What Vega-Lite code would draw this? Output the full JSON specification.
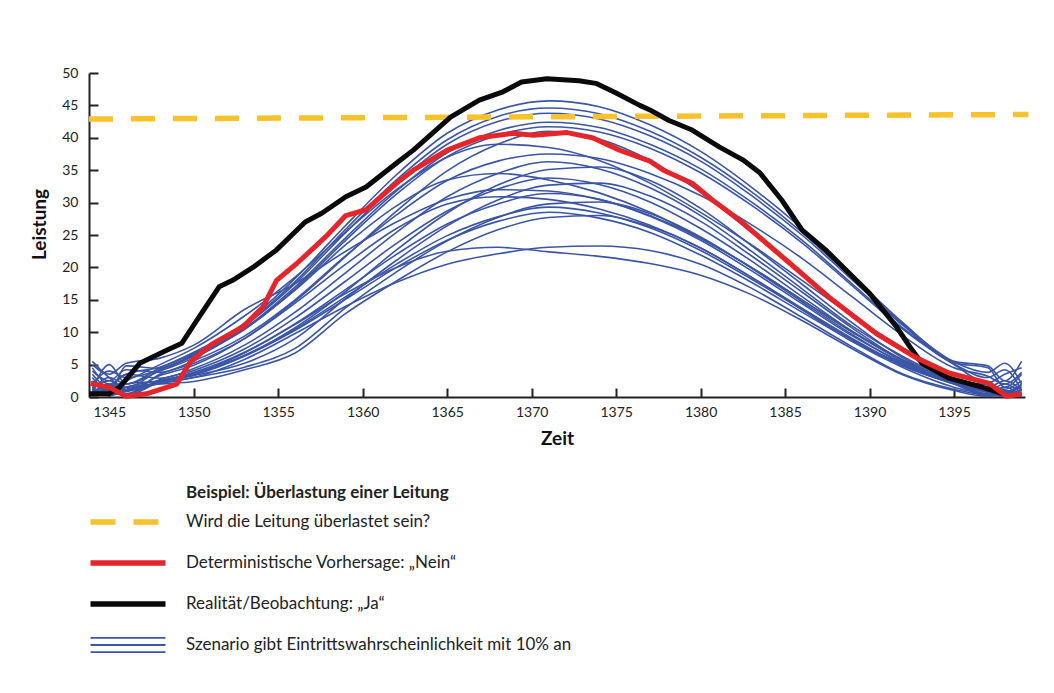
{
"$schema": "https://vega.github.io/schema/vega-lite/v6.json",
"width": 936, "height": 324,
"autosize": {"type": "none"},
"padding": {"left": 89, "top": 73, "right": 29, "bottom": 296},
"background": "white",
"config": {
 "view": {"stroke": null},
 "font": "Lato",
 "axis": {"grid": false, "domainColor": "#222", "domainWidth": 2, "tickColor": "#222", "tickWidth": 2, "tickSize": -9, "labelFont": "Lato", "labelFontSize": 14, "labelColor": "#222", "titleFont": "Lato", "titleFontSize": 19, "titleFontWeight": "bold", "titleColor": "#111"}
},
"datasets": {
 "grenze": [{"t": 1343.8, "v": 42.9}, {"t": 1399.4, "v": 43.6}],
 "det": [
  {"t":1343.9,"v":2.1},{"t":1345,"v":1.5},{"t":1346,"v":0.1},{"t":1347.2,"v":0.5},{"t":1349,"v":2.0},{"t":1349.8,"v":5.4},{"t":1351.1,"v":8.2},{"t":1352.9,"v":10.8},{"t":1354.1,"v":13.9},{"t":1354.9,"v":18.0},{"t":1356.1,"v":20.6},{"t":1357.8,"v":24.7},{"t":1359,"v":28.0},{"t":1360.2,"v":28.9},{"t":1362.1,"v":33.2},{"t":1363,"v":35.0},{"t":1365,"v":38.1},{"t":1366.9,"v":40.0},{"t":1368.9,"v":40.7},{"t":1370.1,"v":40.4},{"t":1372.1,"v":40.8},{"t":1373.6,"v":40.0},{"t":1375.2,"v":38.1},{"t":1377,"v":36.4},{"t":1377.8,"v":35.0},{"t":1379.5,"v":33.0},{"t":1380.7,"v":30.4},{"t":1382.3,"v":27.3},{"t":1385.3,"v":20.6},{"t":1387.6,"v":15.4},{"t":1390.4,"v":9.8},{"t":1392.8,"v":6.0},{"t":1394.7,"v":3.7},{"t":1397.1,"v":2.1},{"t":1398.1,"v":0.1},{"t":1399,"v":0.5}
 ],
 "real": [
  {"t":1343.8,"v":0.5},{"t":1345,"v":0.5},{"t":1345.6,"v":1.5},{"t":1346.8,"v":5.2},{"t":1348.4,"v":7.2},{"t":1349.3,"v":8.3},{"t":1350.3,"v":12.3},{"t":1351.5,"v":17.0},{"t":1352.3,"v":18.0},{"t":1353.5,"v":20.0},{"t":1354.9,"v":22.7},{"t":1356.6,"v":27.0},{"t":1357.6,"v":28.4},{"t":1359,"v":30.9},{"t":1360.2,"v":32.4},{"t":1362.1,"v":36.3},{"t":1363,"v":38.1},{"t":1365.2,"v":43.2},{"t":1366.9,"v":45.8},{"t":1368.3,"v":47.1},{"t":1369.4,"v":48.6},{"t":1370.9,"v":49.1},{"t":1372.8,"v":48.8},{"t":1373.8,"v":48.4},{"t":1375,"v":46.9},{"t":1376.4,"v":45.0},{"t":1377,"v":44.3},{"t":1378.1,"v":42.7},{"t":1379.5,"v":41.2},{"t":1381.1,"v":38.6},{"t":1382.5,"v":36.6},{"t":1383.5,"v":34.6},{"t":1384.8,"v":30.4},{"t":1386,"v":25.8},{"t":1387.4,"v":22.7},{"t":1388.8,"v":19.1},{"t":1390,"v":16.0},{"t":1390.8,"v":13.4},{"t":1391.6,"v":10.8},{"t":1392.4,"v":7.7},{"t":1393.1,"v":5.2},{"t":1394.7,"v":2.9},{"t":1396.7,"v":1.5},{"t":1397.9,"v":0.5}
 ],
 "szen": [
{"s":1,"t":1344,"v":4.5},{"s":1,"t":1345,"v":2.0},{"s":1,"t":1346,"v":3.5},{"s":1,"t":1348,"v":4.6},{"s":1,"t":1350,"v":6.9},{"s":1,"t":1353,"v":11.4},{"s":1,"t":1356,"v":18.3},{"s":1,"t":1359,"v":26.5},{"s":1,"t":1362,"v":34.3},{"s":1,"t":1365,"v":40.7},{"s":1,"t":1368,"v":44.3},{"s":1,"t":1371,"v":45.7},{"s":1,"t":1374,"v":44.8},{"s":1,"t":1377,"v":42.0},{"s":1,"t":1380,"v":37.9},{"s":1,"t":1383,"v":32.4},{"s":1,"t":1386,"v":26.0},{"s":1,"t":1389,"v":18.7},{"s":1,"t":1392,"v":11.4},{"s":1,"t":1395,"v":5.5},{"s":1,"t":1397,"v":4.8},{"s":1,"t":1398,"v":2.5},{"s":1,"t":1399,"v":5.5},
{"s":2,"t":1344,"v":1.0},{"s":2,"t":1345,"v":5.0},{"s":2,"t":1346,"v":2.0},{"s":2,"t":1348,"v":4.5},{"s":2,"t":1350,"v":6.7},{"s":2,"t":1353,"v":11.2},{"s":2,"t":1356,"v":17.8},{"s":2,"t":1359,"v":25.9},{"s":2,"t":1362,"v":33.5},{"s":2,"t":1365,"v":39.7},{"s":2,"t":1368,"v":43.3},{"s":2,"t":1371,"v":44.6},{"s":2,"t":1374,"v":43.7},{"s":2,"t":1377,"v":41.0},{"s":2,"t":1380,"v":37.0},{"s":2,"t":1383,"v":31.7},{"s":2,"t":1386,"v":25.4},{"s":2,"t":1389,"v":18.3},{"s":2,"t":1392,"v":11.2},{"s":2,"t":1395,"v":5.4},{"s":2,"t":1397,"v":3.8},{"s":2,"t":1398,"v":5.2},{"s":2,"t":1399,"v":2.0},
{"s":3,"t":1344,"v":3.0},{"s":3,"t":1345,"v":0.8},{"s":3,"t":1346,"v":4.8},{"s":3,"t":1348,"v":4.4},{"s":3,"t":1350,"v":6.6},{"s":3,"t":1353,"v":11.0},{"s":3,"t":1356,"v":17.5},{"s":3,"t":1359,"v":25.4},{"s":3,"t":1362,"v":32.9},{"s":3,"t":1365,"v":39.0},{"s":3,"t":1368,"v":42.5},{"s":3,"t":1371,"v":43.8},{"s":3,"t":1374,"v":42.9},{"s":3,"t":1377,"v":40.3},{"s":3,"t":1380,"v":36.4},{"s":3,"t":1383,"v":31.1},{"s":3,"t":1386,"v":25.0},{"s":3,"t":1389,"v":18.0},{"s":3,"t":1392,"v":11.0},{"s":3,"t":1395,"v":5.3},{"s":3,"t":1397,"v":4.5},{"s":3,"t":1398,"v":1.5},{"s":3,"t":1399,"v":3.5},
{"s":4,"t":1344,"v":5.5},{"s":4,"t":1345,"v":3.0},{"s":4,"t":1346,"v":1.5},{"s":4,"t":1348,"v":4.2},{"s":4,"t":1350,"v":6.4},{"s":4,"t":1353,"v":10.6},{"s":4,"t":1356,"v":17.0},{"s":4,"t":1359,"v":24.6},{"s":4,"t":1362,"v":31.8},{"s":4,"t":1365,"v":37.7},{"s":4,"t":1368,"v":41.1},{"s":4,"t":1371,"v":42.4},{"s":4,"t":1374,"v":41.6},{"s":4,"t":1377,"v":39.0},{"s":4,"t":1380,"v":35.2},{"s":4,"t":1383,"v":30.1},{"s":4,"t":1386,"v":24.2},{"s":4,"t":1389,"v":17.4},{"s":4,"t":1392,"v":10.6},{"s":4,"t":1395,"v":5.1},{"s":4,"t":1397,"v":3.0},{"s":4,"t":1398,"v":4.2},{"s":4,"t":1399,"v":1.0},
{"s":5,"t":1344,"v":2.0},{"s":5,"t":1345,"v":4.0},{"s":5,"t":1346,"v":3.0},{"s":5,"t":1348,"v":4.2},{"s":5,"t":1350,"v":6.3},{"s":5,"t":1353,"v":10.4},{"s":5,"t":1356,"v":16.7},{"s":5,"t":1359,"v":24.2},{"s":5,"t":1362,"v":31.3},{"s":5,"t":1365,"v":37.1},{"s":5,"t":1368,"v":40.4},{"s":5,"t":1371,"v":41.7},{"s":5,"t":1374,"v":40.9},{"s":5,"t":1377,"v":38.4},{"s":5,"t":1380,"v":34.6},{"s":5,"t":1383,"v":29.6},{"s":5,"t":1386,"v":23.8},{"s":5,"t":1389,"v":17.1},{"s":5,"t":1392,"v":10.4},{"s":5,"t":1395,"v":5.0},{"s":5,"t":1397,"v":2.2},{"s":5,"t":1398,"v":3.5},{"s":5,"t":1399,"v":4.5},
{"s":6,"t":1344,"v":1.5},{"s":6,"t":1345,"v":2.5},{"s":6,"t":1346,"v":1.0},{"s":6,"t":1348,"v":3.3},{"s":6,"t":1350,"v":4.9},{"s":6,"t":1353,"v":9.0},{"s":6,"t":1356,"v":14.8},{"s":6,"t":1359,"v":21.7},{"s":6,"t":1362,"v":28.7},{"s":6,"t":1365,"v":34.9},{"s":6,"t":1368,"v":39.0},{"s":6,"t":1371,"v":41.0},{"s":6,"t":1374,"v":39.8},{"s":6,"t":1377,"v":36.5},{"s":6,"t":1380,"v":31.6},{"s":6,"t":1383,"v":25.4},{"s":6,"t":1386,"v":18.9},{"s":6,"t":1389,"v":12.3},{"s":6,"t":1392,"v":7.0},{"s":6,"t":1395,"v":2.9},{"s":6,"t":1397,"v":1.5},{"s":6,"t":1398,"v":2.5},{"s":6,"t":1399,"v":1.0},
{"s":7,"t":1344,"v":3.5},{"s":7,"t":1345,"v":1.5},{"s":7,"t":1346,"v":2.5},{"s":7,"t":1348,"v":5.0},{"s":7,"t":1350,"v":7.5},{"s":7,"t":1353,"v":12.5},{"s":7,"t":1356,"v":18.5},{"s":7,"t":1359,"v":25.5},{"s":7,"t":1362,"v":32.0},{"s":7,"t":1365,"v":37.0},{"s":7,"t":1368,"v":39.0},{"s":7,"t":1371,"v":38.5},{"s":7,"t":1374,"v":36.5},{"s":7,"t":1377,"v":33.0},{"s":7,"t":1380,"v":28.5},{"s":7,"t":1383,"v":23.5},{"s":7,"t":1386,"v":18.0},{"s":7,"t":1389,"v":12.5},{"s":7,"t":1392,"v":7.5},{"s":7,"t":1395,"v":3.5},{"s":7,"t":1397,"v":2.0},{"s":7,"t":1398,"v":1.2},{"s":7,"t":1399,"v":2.5},
{"s":8,"t":1344,"v":0.5},{"s":8,"t":1345,"v":1.5},{"s":8,"t":1346,"v":3.5},{"s":8,"t":1348,"v":2.9},{"s":8,"t":1350,"v":4.4},{"s":8,"t":1353,"v":8.0},{"s":8,"t":1356,"v":13.1},{"s":8,"t":1359,"v":19.2},{"s":8,"t":1362,"v":25.4},{"s":8,"t":1365,"v":30.9},{"s":8,"t":1368,"v":34.5},{"s":8,"t":1371,"v":36.3},{"s":8,"t":1374,"v":35.2},{"s":8,"t":1377,"v":32.3},{"s":8,"t":1380,"v":28.0},{"s":8,"t":1383,"v":22.5},{"s":8,"t":1386,"v":16.7},{"s":8,"t":1389,"v":10.9},{"s":8,"t":1392,"v":6.2},{"s":8,"t":1395,"v":2.5},{"s":8,"t":1397,"v":1.0},{"s":8,"t":1398,"v":2.0},{"s":8,"t":1399,"v":0.5},
{"s":9,"t":1344,"v":2.5},{"s":9,"t":1345,"v":0.5},{"s":9,"t":1346,"v":1.5},{"s":9,"t":1348,"v":2.5},{"s":9,"t":1350,"v":3.6},{"s":9,"t":1353,"v":6.4},{"s":9,"t":1356,"v":10.7},{"s":9,"t":1359,"v":16.3},{"s":9,"t":1362,"v":22.7},{"s":9,"t":1365,"v":28.4},{"s":9,"t":1368,"v":32.7},{"s":9,"t":1371,"v":35.1},{"s":9,"t":1374,"v":35.5},{"s":9,"t":1377,"v":33.4},{"s":9,"t":1380,"v":29.1},{"s":9,"t":1383,"v":23.4},{"s":9,"t":1386,"v":17.4},{"s":9,"t":1389,"v":11.4},{"s":9,"t":1392,"v":6.0},{"s":9,"t":1395,"v":2.5},{"s":9,"t":1397,"v":1.8},{"s":9,"t":1398,"v":0.8},{"s":9,"t":1399,"v":1.5},
{"s":10,"t":1344,"v":1.0},{"s":10,"t":1345,"v":3.0},{"s":10,"t":1346,"v":2.0},{"s":10,"t":1348,"v":4.0},{"s":10,"t":1350,"v":6.0},{"s":10,"t":1353,"v":10.5},{"s":10,"t":1356,"v":16.5},{"s":10,"t":1359,"v":23.5},{"s":10,"t":1362,"v":29.5},{"s":10,"t":1365,"v":33.5},{"s":10,"t":1368,"v":34.5},{"s":10,"t":1371,"v":33.5},{"s":10,"t":1374,"v":31.5},{"s":10,"t":1377,"v":28.5},{"s":10,"t":1380,"v":24.5},{"s":10,"t":1383,"v":20.0},{"s":10,"t":1386,"v":15.0},{"s":10,"t":1389,"v":10.0},{"s":10,"t":1392,"v":5.5},{"s":10,"t":1395,"v":2.2},{"s":10,"t":1397,"v":1.2},{"s":10,"t":1398,"v":0.5},{"s":10,"t":1399,"v":1.8},
{"s":11,"t":1344,"v":2.0},{"s":11,"t":1345,"v":1.0},{"s":11,"t":1346,"v":0.5},{"s":11,"t":1348,"v":2.7},{"s":11,"t":1350,"v":4.1},{"s":11,"t":1353,"v":7.4},{"s":11,"t":1356,"v":12.2},{"s":11,"t":1359,"v":17.9},{"s":11,"t":1362,"v":23.7},{"s":11,"t":1365,"v":28.7},{"s":11,"t":1368,"v":32.1},{"s":11,"t":1371,"v":33.8},{"s":11,"t":1374,"v":32.8},{"s":11,"t":1377,"v":30.1},{"s":11,"t":1380,"v":26.0},{"s":11,"t":1383,"v":21.0},{"s":11,"t":1386,"v":15.5},{"s":11,"t":1389,"v":10.1},{"s":11,"t":1392,"v":5.7},{"s":11,"t":1395,"v":2.4},{"s":11,"t":1397,"v":0.8},{"s":11,"t":1398,"v":1.5},{"s":11,"t":1399,"v":0.3},
{"s":12,"t":1344,"v":0.3},{"s":12,"t":1345,"v":2.0},{"s":12,"t":1346,"v":1.0},{"s":12,"t":1348,"v":2.3},{"s":12,"t":1350,"v":3.3},{"s":12,"t":1353,"v":5.2},{"s":12,"t":1356,"v":9.0},{"s":12,"t":1359,"v":15.2},{"s":12,"t":1362,"v":21.1},{"s":12,"t":1365,"v":26.4},{"s":12,"t":1368,"v":30.4},{"s":12,"t":1371,"v":32.7},{"s":12,"t":1374,"v":33.0},{"s":12,"t":1377,"v":31.0},{"s":12,"t":1380,"v":27.1},{"s":12,"t":1383,"v":21.8},{"s":12,"t":1386,"v":16.2},{"s":12,"t":1389,"v":10.6},{"s":12,"t":1392,"v":5.6},{"s":12,"t":1395,"v":2.3},{"s":12,"t":1397,"v":0.5},{"s":12,"t":1398,"v":1.0},{"s":12,"t":1399,"v":0.5},
{"s":13,"t":1344,"v":1.2},{"s":13,"t":1345,"v":0.5},{"s":13,"t":1346,"v":2.0},{"s":13,"t":1348,"v":2.5},{"s":13,"t":1350,"v":3.8},{"s":13,"t":1353,"v":6.9},{"s":13,"t":1356,"v":11.3},{"s":13,"t":1359,"v":16.6},{"s":13,"t":1362,"v":22.0},{"s":13,"t":1365,"v":26.7},{"s":13,"t":1368,"v":29.8},{"s":13,"t":1371,"v":31.4},{"s":13,"t":1374,"v":30.5},{"s":13,"t":1377,"v":27.9},{"s":13,"t":1380,"v":24.2},{"s":13,"t":1383,"v":19.5},{"s":13,"t":1386,"v":14.4},{"s":13,"t":1389,"v":9.4},{"s":13,"t":1392,"v":5.3},{"s":13,"t":1395,"v":2.2},{"s":13,"t":1397,"v":1.0},{"s":13,"t":1398,"v":0.3},{"s":13,"t":1399,"v":1.2},
{"s":14,"t":1344,"v":0.8},{"s":14,"t":1345,"v":1.8},{"s":14,"t":1346,"v":0.5},{"s":14,"t":1348,"v":3.5},{"s":14,"t":1350,"v":5.2},{"s":14,"t":1353,"v":9.0},{"s":14,"t":1356,"v":14.5},{"s":14,"t":1359,"v":20.5},{"s":14,"t":1362,"v":26.0},{"s":14,"t":1365,"v":29.8},{"s":14,"t":1368,"v":30.9},{"s":14,"t":1371,"v":30.5},{"s":14,"t":1374,"v":29.0},{"s":14,"t":1377,"v":26.5},{"s":14,"t":1380,"v":23.0},{"s":14,"t":1383,"v":18.5},{"s":14,"t":1386,"v":13.5},{"s":14,"t":1389,"v":8.5},{"s":14,"t":1392,"v":4.5},{"s":14,"t":1395,"v":1.5},{"s":14,"t":1397,"v":0.5},{"s":14,"t":1398,"v":1.0},{"s":14,"t":1399,"v":0.2},
{"s":15,"t":1344,"v":1.5},{"s":15,"t":1345,"v":0.3},{"s":15,"t":1346,"v":1.2},{"s":15,"t":1348,"v":2.1},{"s":15,"t":1350,"v":3.0},{"s":15,"t":1353,"v":4.6},{"s":15,"t":1356,"v":7.5},{"s":15,"t":1359,"v":13.8},{"s":15,"t":1362,"v":19.3},{"s":15,"t":1365,"v":24.1},{"s":15,"t":1368,"v":27.7},{"s":15,"t":1371,"v":29.8},{"s":15,"t":1374,"v":30.1},{"s":15,"t":1377,"v":28.3},{"s":15,"t":1380,"v":24.7},{"s":15,"t":1383,"v":19.9},{"s":15,"t":1386,"v":14.7},{"s":15,"t":1389,"v":9.6},{"s":15,"t":1392,"v":5.1},{"s":15,"t":1395,"v":2.1},{"s":15,"t":1397,"v":0.7},{"s":15,"t":1398,"v":0.2},{"s":15,"t":1399,"v":0.8},
{"s":16,"t":1344,"v":0.5},{"s":16,"t":1345,"v":1.2},{"s":16,"t":1346,"v":0.3},{"s":16,"t":1348,"v":2.3},{"s":16,"t":1350,"v":3.4},{"s":16,"t":1353,"v":6.3},{"s":16,"t":1356,"v":10.3},{"s":16,"t":1359,"v":15.1},{"s":16,"t":1362,"v":20.0},{"s":16,"t":1365,"v":24.2},{"s":16,"t":1368,"v":27.1},{"s":16,"t":1371,"v":28.5},{"s":16,"t":1374,"v":27.6},{"s":16,"t":1377,"v":25.4},{"s":16,"t":1380,"v":21.9},{"s":16,"t":1383,"v":17.7},{"s":16,"t":1386,"v":13.1},{"s":16,"t":1389,"v":8.6},{"s":16,"t":1392,"v":4.8},{"s":16,"t":1395,"v":2.0},{"s":16,"t":1397,"v":0.3},{"s":16,"t":1398,"v":0.8},{"s":16,"t":1399,"v":0.4},
{"s":17,"t":1344,"v":0.2},{"s":17,"t":1345,"v":0.8},{"s":17,"t":1346,"v":1.5},{"s":17,"t":1348,"v":2.0},{"s":17,"t":1350,"v":2.4},{"s":17,"t":1353,"v":4.2},{"s":17,"t":1356,"v":6.8},{"s":17,"t":1359,"v":12.9},{"s":17,"t":1362,"v":17.9},{"s":17,"t":1365,"v":22.4},{"s":17,"t":1368,"v":25.8},{"s":17,"t":1371,"v":27.7},{"s":17,"t":1374,"v":28.0},{"s":17,"t":1377,"v":26.3},{"s":17,"t":1380,"v":23.0},{"s":17,"t":1383,"v":18.5},{"s":17,"t":1386,"v":13.7},{"s":17,"t":1389,"v":9.0},{"s":17,"t":1392,"v":4.8},{"s":17,"t":1395,"v":2.0},{"s":17,"t":1397,"v":0.4},{"s":17,"t":1398,"v":0.1},{"s":17,"t":1399,"v":0.6},
{"s":18,"t":1344,"v":1.0},{"s":18,"t":1345,"v":0.4},{"s":18,"t":1346,"v":0.8},{"s":18,"t":1348,"v":2.1},{"s":18,"t":1350,"v":3.0},{"s":18,"t":1353,"v":5.8},{"s":18,"t":1356,"v":9.8},{"s":18,"t":1359,"v":14.0},{"s":18,"t":1362,"v":17.7},{"s":18,"t":1365,"v":20.5},{"s":18,"t":1368,"v":22.1},{"s":18,"t":1371,"v":23.1},{"s":18,"t":1374,"v":23.3},{"s":18,"t":1377,"v":22.6},{"s":18,"t":1380,"v":20.5},{"s":18,"t":1383,"v":16.8},{"s":18,"t":1386,"v":12.3},{"s":18,"t":1389,"v":7.7},{"s":18,"t":1392,"v":3.5},{"s":18,"t":1395,"v":1.2},{"s":18,"t":1397,"v":0.3},{"s":18,"t":1398,"v":0.6},{"s":18,"t":1399,"v":0.2},
{"s":19,"t":1344,"v":0.3},{"s":19,"t":1345,"v":1.0},{"s":19,"t":1346,"v":0.2},{"s":19,"t":1348,"v":2.5},{"s":19,"t":1350,"v":3.6},{"s":19,"t":1353,"v":6.8},{"s":19,"t":1356,"v":11.2},{"s":19,"t":1359,"v":16.0},{"s":19,"t":1362,"v":20.0},{"s":19,"t":1365,"v":22.5},{"s":19,"t":1368,"v":23.1},{"s":19,"t":1371,"v":22.4},{"s":19,"t":1374,"v":21.7},{"s":19,"t":1377,"v":20.6},{"s":19,"t":1380,"v":18.8},{"s":19,"t":1383,"v":15.8},{"s":19,"t":1386,"v":11.8},{"s":19,"t":1389,"v":7.4},{"s":19,"t":1392,"v":3.4},{"s":19,"t":1395,"v":1.0},{"s":19,"t":1397,"v":0.1},{"s":19,"t":1398,"v":0.4},{"s":19,"t":1399,"v":0.3},
{"s":20,"t":1344,"v":4.0},{"s":20,"t":1345,"v":2.5},{"s":20,"t":1346,"v":4.2},{"s":20,"t":1348,"v":3.8},{"s":20,"t":1350,"v":5.6},{"s":20,"t":1353,"v":9.4},{"s":20,"t":1356,"v":15.0},{"s":20,"t":1359,"v":21.8},{"s":20,"t":1362,"v":28.1},{"s":20,"t":1365,"v":33.4},{"s":20,"t":1368,"v":36.4},{"s":20,"t":1371,"v":37.5},{"s":20,"t":1374,"v":36.8},{"s":20,"t":1377,"v":34.5},{"s":20,"t":1380,"v":31.1},{"s":20,"t":1383,"v":26.6},{"s":20,"t":1386,"v":21.4},{"s":20,"t":1389,"v":15.4},{"s":20,"t":1392,"v":9.4},{"s":20,"t":1395,"v":4.5},{"s":20,"t":1397,"v":3.2},{"s":20,"t":1398,"v":2.0},{"s":20,"t":1399,"v":3.8},
{"s":21,"t":1344,"v":5.0},{"s":21,"t":1345,"v":3.5},{"s":21,"t":1346,"v":5.2},{"s":21,"t":1348,"v":6.0},{"s":21,"t":1350,"v":8.0},{"s":21,"t":1353,"v":13.5},{"s":21,"t":1356,"v":17.5},{"s":21,"t":1359,"v":22.5},{"s":21,"t":1362,"v":27.0},{"s":21,"t":1365,"v":30.5},{"s":21,"t":1368,"v":32.0},{"s":21,"t":1371,"v":31.8},{"s":21,"t":1374,"v":30.5},{"s":21,"t":1377,"v":28.0},{"s":21,"t":1380,"v":24.5},{"s":21,"t":1383,"v":20.0},{"s":21,"t":1386,"v":15.0},{"s":21,"t":1389,"v":10.0},{"s":21,"t":1392,"v":5.5},{"s":21,"t":1395,"v":2.2},{"s":21,"t":1397,"v":1.5},{"s":21,"t":1398,"v":0.8},{"s":21,"t":1399,"v":2.0},
{"s":22,"t":1344,"v":0.7},{"s":22,"t":1345,"v":0.2},{"s":22,"t":1346,"v":1.0},{"s":22,"t":1348,"v":2.3},{"s":22,"t":1350,"v":3.5},{"s":22,"t":1353,"v":6.4},{"s":22,"t":1356,"v":10.5},{"s":22,"t":1359,"v":15.5},{"s":22,"t":1362,"v":20.5},{"s":22,"t":1365,"v":24.9},{"s":22,"t":1368,"v":27.8},{"s":22,"t":1371,"v":29.3},{"s":22,"t":1374,"v":28.4},{"s":22,"t":1377,"v":26.1},{"s":22,"t":1380,"v":22.6},{"s":22,"t":1383,"v":18.2},{"s":22,"t":1386,"v":13.5},{"s":22,"t":1389,"v":8.8},{"s":22,"t":1392,"v":5.0},{"s":22,"t":1395,"v":2.1},{"s":22,"t":1397,"v":0.2},{"s":22,"t":1398,"v":0.5},{"s":22,"t":1399,"v":0.1}
 ]
},
"encoding": {
 "x": {"field": "t", "type": "quantitative", "scale": {"domain": [1343.8, 1399.2], "nice": false, "zero": false},
   "axis": {"title": "Zeit", "values": [1345,1350,1355,1360,1365,1370,1375,1380,1385,1390,1395], "format": "d", "labelPadding": 17, "titleX": 468, "titleY": 41, "titleBaseline": "middle"}},
 "y": {"field": "v", "type": "quantitative", "scale": {"domain": [0, 50], "nice": false},
   "axis": {"title": "Leistung", "values": [0,5,10,15,20,25,30,35,40,45,50], "labelPadding": 20, "titleX": -50, "titleY": 151, "titleBaseline": "middle"}}
},
"layer": [
 {"data": {"name": "szen"},
  "mark": {"type": "line", "interpolate": "monotone", "strokeWidth": 1.6, "strokeJoin": "round"},
  "encoding": {"detail": {"field": "s", "type": "nominal"},
   "color": {"datum": "Szenario gibt Eintrittswahrscheinlichkeit mit 10% an", "type": "nominal",
     "scale": {"domain": ["Wird die Leitung überlastet sein?", "Deterministische Vorhersage: „Nein“", "Realität/Beobachtung: „Ja“", "Szenario gibt Eintrittswahrscheinlichkeit mit 10% an"], "range": ["#F8C22C", "#E5252A", "#0A0A0A", "#3B55A6"]},
     "legend": {"orient": "none", "legendX": 1, "legendY": 412, "direction": "vertical",
       "title": "Beispiel: Überlastung einer Leitung", "titleFont": "Lato", "titleFontSize": 17, "titleFontWeight": "bold", "titleColor": "#222", "titlePadding": 12, "titleLimit": 800,
       "symbolType": "stroke", "symbolSize": 5625, "clipHeight": 16, "rowPadding": 24,
       "labelFont": "Lato", "labelFontSize": 17, "labelColor": "#222", "labelOffset": 79, "labelLimit": 800,
       "encode": {
         "title": {"update": {"dx": {"value": 96}}},
         "symbols": {"update": {
           "size": {"value": 5625},
           "x": {"value": 38},
           "shape": {"signal": "datum.index === 3 ? 'M-1,-0.19H1M-1,0H1M-1,0.19H1' : 'stroke'"},
           "strokeWidth": {"signal": "datum.index === 3 ? 1.8 : 5.5"},
           "strokeDash": {"signal": "datum.index === 0 ? [25, 18] : [1, 0]"}
         }}
       }}}}},
 {"data": {"name": "grenze"},
  "mark": {"type": "line", "strokeWidth": 5.5, "strokeDash": [24, 18]},
  "encoding": {"color": {"datum": "Wird die Leitung überlastet sein?", "type": "nominal"}}},
 {"data": {"name": "real"},
  "mark": {"type": "line", "strokeWidth": 5, "strokeJoin": "round"},
  "encoding": {"color": {"datum": "Realität/Beobachtung: „Ja“", "type": "nominal"}}},
 {"data": {"name": "det"},
  "mark": {"type": "line", "strokeWidth": 5, "strokeJoin": "round"},
  "encoding": {"color": {"datum": "Deterministische Vorhersage: „Nein“", "type": "nominal"}}}
]
}
